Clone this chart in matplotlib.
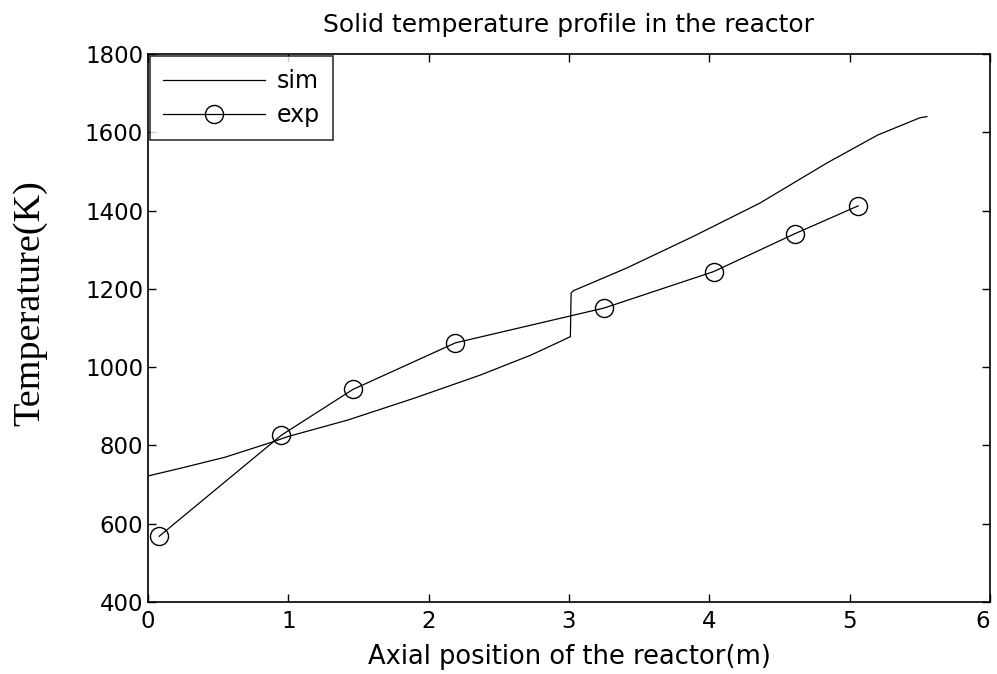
import matplotlib.pyplot as plt

# simulated solid temperature along the reactor (K)
sim_x = [0.0, 0.235, 0.55, 0.88, 1.0, 1.425, 1.90, 2.37, 2.73, 2.94, 3.01,
         3.015, 3.03, 3.41, 3.88, 4.36, 4.84, 5.20, 5.50, 5.55]
sim_T = [722, 742, 770, 808, 823, 865, 921, 980, 1031, 1066, 1078,
         1189, 1195, 1253, 1333, 1419, 1522, 1593, 1637, 1640]

# experimental points
exp_x = [0.08, 0.95, 1.46, 2.19, 3.25, 4.03, 4.61, 5.06]
exp_T = [568, 826, 943, 1062, 1151, 1244, 1341, 1412]

plt.rcParams['font.family'] = 'DejaVu Sans'

fig = plt.figure(figsize=(9.97, 6.74), dpi=100)
ax = fig.add_axes([0.1484, 0.1068, 0.8446, 0.8131])

ax.plot(sim_x, sim_T, color='black', linewidth=0.9, label='sim')
ax.plot(exp_x, exp_T, color='black', linewidth=0.9, marker='o', markersize=13,
        markerfacecolor='none', markeredgewidth=1.0, label='exp')

ax.set_xlim(0, 6)
ax.set_ylim(400, 1800)
ax.set_xticks(range(0, 7))
ax.set_yticks(range(400, 1801, 200))
ax.tick_params(direction='in', top=True, right=True, labelsize=16.5, length=6, width=1)
ax.tick_params(axis='x', pad=6)
for s in ax.spines.values():
    s.set_linewidth(1.2)
# keep the last x label inside the figure
ax.get_xticklabels()[-1].set_horizontalalignment('right')

ax.set_title('Solid temperature profile in the reactor', fontsize=18, pad=16)
ax.set_xlabel('Axial position of the reactor(m)', fontsize=18.5, labelpad=8)
ax.set_ylabel('Temperature(K)', fontsize=27.5, family='Liberation Serif')
ax.yaxis.set_label_coords(-0.12, 0.545)

leg = ax.legend(loc='upper left', fontsize=17, frameon=True, fancybox=False,
                edgecolor='black', borderaxespad=0.1, handlelength=4.3,
                handletextpad=0.5, borderpad=0.55, labelspacing=0.42)
leg.get_frame().set_linewidth(1.2)

fig.savefig('out.png', dpi=100)
